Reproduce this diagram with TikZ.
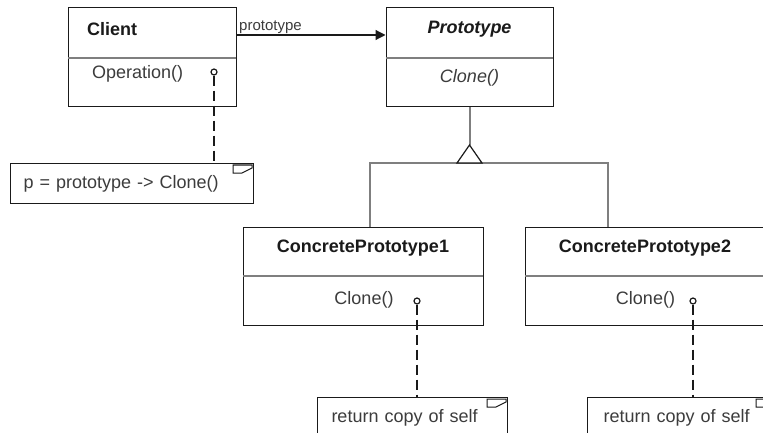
\documentclass[tikz,border=0pt]{standalone}
\usepackage{fontspec}
\setmainfont{Liberation Sans}
\usetikzlibrary{arrows.meta,calc}
\definecolor{ink}{HTML}{1A1A1A}
\definecolor{rulegray}{HTML}{7F7F7F}
\begin{document}
\begin{tikzpicture}[x=1pt,y=-1pt,
  classbox/.style={draw=ink, line width=1pt, rectangle, inner sep=0pt, fill=white},
  seprule/.style={draw=rulegray, line width=2pt},
  classname/.style={inner sep=0pt, text=ink, font=\fontsize{18}{21}\selectfont\bfseries},
  member/.style={inner sep=0pt, text=ink!85, font=\fontsize{18}{21}\selectfont},
  rolelabel/.style={inner sep=0pt, text=ink!85, font=\fontsize{15}{18}\selectfont},
  assoc/.style={draw=ink, line width=1.2pt, -{Triangle[length=10pt,width=10pt]}},
  inherit/.style={draw=rulegray, line width=2pt},
  port/.style={circle, draw=ink, line width=1.2pt, minimum size=6pt, inner sep=0pt},
  noteline/.style={draw=ink, line width=1.3pt, dash pattern=on 10pt off 5pt},
  notebox/.style={draw=ink, line width=1pt, rectangle, fill=white, inner ysep=0pt,
    minimum height=40pt, align=left, text=ink!85, font=\fontsize{18}{21}\selectfont},
  flag/.style={draw=ink, line width=1pt, line join=miter}
]
\useasboundingbox (0,0) rectangle (763,433);
\clip (0,0) rectangle (763,433);

% Client class
\node[classbox, minimum width=168pt, minimum height=99pt] (client) at (152,57.5) {};
\draw[seprule] (68,58) -- (236,58);
\node[classname, anchor=west] (clientname) at (87,29) {Client};
\node[member, anchor=west] (clientop) at (92,74) {Operation()};
\node[port] (clientport) at (214,72) {};

% Prototype class
\node[classbox, minimum width=167pt, minimum height=99pt] (proto) at (469.5,57.5) {};
\draw[seprule] (386,58) -- (553,58);
\node[classname, font=\fontsize{18}{21}\selectfont\bfseries\itshape] (protoname) at (469.5,29) {Prototype};
\node[member, font=\fontsize{18}{21}\selectfont\itshape] (protoop) at (469.5,78) {Clone()};

% association
\draw[assoc] (client.east |- 0,35) -- (proto.west |- 0,35);
\node[rolelabel, anchor=south west] (role) at (239,34) {prototype};

% concrete classes
\node[classbox, minimum width=240pt, minimum height=98pt] (cp1) at (363,276) {};
\draw[seprule] (243,276) -- (483,276);
\node[classname] (cp1name) at (363,248) {ConcretePrototype1};
\node[member] (cp1op) at (364,300) {Clone()};
\node[port] (cp1port) at (417,301) {};

\node[classbox, minimum width=240pt, minimum height=98pt] (cp2) at (645,276) {};
\draw[seprule] (525,276) -- (765,276);
\node[classname] (cp2name) at (645,248) {ConcretePrototype2};
\node[member] (cp2op) at (645.5,300) {Clone()};
\node[port] (cp2port) at (693,301) {};

% generalization
\coordinate (apex) at (469.5,145);
\coordinate (j1) at (370,163);
\coordinate (j2) at (608,163);
\draw[inherit] (proto.south) -- (apex);
\draw[inherit] (cp1.north -| j1) -- (j1) -- (j2) -- (cp2.north -| j2);
\draw[draw=ink, line width=1.2pt, fill=white, line join=miter]
  (apex) -- (482,163) -- (457,163) -- cycle;

% notes
\node[notebox, inner xsep=13pt, text width=217pt, anchor=north west] (note0) at (10,163)
  {p = prototype -> Clone()};
\node[notebox, inner xsep=14pt, text width=162pt, anchor=north west] (note1) at (317,397)
  {return copy of self};
\node[notebox, inner xsep=16pt, text width=157pt, anchor=north west] (note2) at (587,397)
  {return copy of self};

% folded-corner marks
\foreach \n in {note0,note1,note2}{
  \draw[flag] ($(\n.north east)+(-21pt,-2pt)$) -- ($(\n.north east)+(-2pt,-2pt)$)
    -- ($(\n.north east)+(-2pt,-5pt)$) -- ($(\n.north east)+(-12pt,-10pt)$)
    -- ($(\n.north east)+(-21pt,-10pt)$) -- cycle;
}

\draw[noteline] (clientport) -- (note0.north -| clientport);
\draw[noteline] (cp1port) -- (note1.north -| cp1port);
\draw[noteline] (cp2port) -- (note2.north -| cp2port);
\end{tikzpicture}
\end{document}
